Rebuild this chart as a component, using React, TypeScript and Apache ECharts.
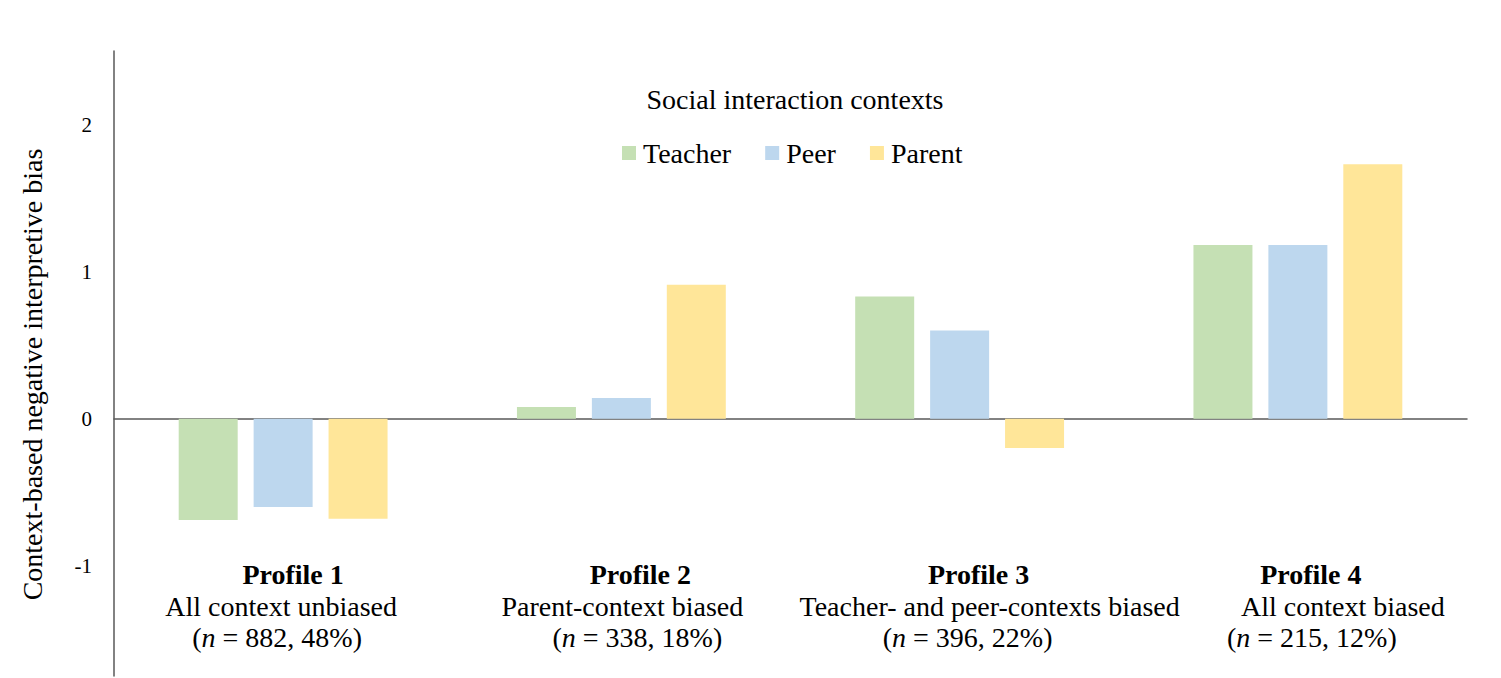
import React, { useEffect, useRef } from "react";
import * as echarts from "echarts";

const categories = ["Profile 1", "Profile 2", "Profile 3", "Profile 4"];
const descriptions = [
  "All context unbiased",
  "Parent-context biased",
  "Teacher- and peer-contexts biased",
  "All context biased",
];
const sampleN = ["882", "338", "396", "215"];
const samplePct = ["48%", "18%", "22%", "12%"];
const seriesNames = ["Teacher", "Peer", "Parent"];
const teacher = [-0.69, 0.08, 0.83, 1.18];
const peer = [-0.6, 0.14, 0.6, 1.18];
const parent = [-0.68, 0.91, -0.2, 1.73];
const yTicks = [-1, 0, 1, 2];

// per-line horizontal shift (layout only), in px
const lineShift = [
  [10, -2, -6],
  [19, 1, 16],
  [19, 30, 8],
  [13, 45, 14],
];

const FONT = "Liberation Serif";
const colors = ["#C5E0B4", "#BDD7EE", "#FFE699"];
const LH = 31.5;
const FS = 28;

function leftPad(d: number) {
  return [0, 0, 0, d > 0 ? 2 * d : 0];
}
function rightPad(d: number) {
  return [0, d < 0 ? -2 * d : 0, 0, 0];
}

export default function App() {
  const ref = useRef<HTMLDivElement>(null);
  useEffect(() => {
    if (!ref.current) return;
    const chart = echarts.init(ref.current, undefined, { renderer: "svg" });
    const base = { fontFamily: FONT, fontSize: FS, color: "#000", lineHeight: LH };
    const rich: Record<string, any> = {
      i: { ...base, fontStyle: "italic" },
    };
    lineShift.forEach((ls, ci) => {
      rich["b" + ci] = { ...base, fontWeight: "bold", padding: [0, rightPad(ls[0])[1], 0, leftPad(ls[0])[3]] };
      rich["d" + ci] = { ...base, padding: [0, rightPad(ls[1])[1], 0, leftPad(ls[1])[3]] };
      rich["pa" + ci] = { ...base, padding: leftPad(ls[2]) };
      rich["pz" + ci] = { ...base, padding: rightPad(ls[2]) };
    });
    const series = [teacher, peer, parent].map((data, k) => ({
      name: seriesNames[k],
      type: "bar",
      data,
      barWidth: 59,
      barGap: "27%",
      itemStyle: { color: colors[k] },
    }));
    chart.setOption({
      animation: false,
      title: {
        text: "Social interaction contexts",
        left: 790,
        top: 80,
        textAlign: "center",
        textStyle: { fontFamily: FONT, fontSize: FS, fontWeight: "normal", color: "#000" },
      },
      legend: {
        data: seriesNames,
        left: 617,
        top: 134,
        icon: "rect",
        itemWidth: 14,
        itemHeight: 14,
        itemGap: 34,
        textStyle: { fontFamily: FONT, fontSize: FS, color: "#000", padding: [0, 0, 0, 2] },
      },
      grid: { left: 114, right: 34, top: 51, bottom: 2, containLabel: false, outerBoundsMode: "none" },
      xAxis: {
        type: "category",
        data: categories,
        axisLine: { onZero: true, lineStyle: { color: "#595959", width: 1.5 } },
        axisTick: { show: false },
        axisLabel: {
          margin: -117,
          interval: 0,
          hideOverlap: false,
          formatter: (value: string, idx: number) =>
            `{b${idx}|${value}}\n{d${idx}|${descriptions[idx]}}\n{pa${idx}|(}{i|n}{pz${idx}| = ${sampleN[idx]}, ${samplePct[idx]})}`,
          rich,
        },
      },
      yAxis: {
        type: "value",
        min: -1.75,
        max: 2.5,
        interval: 0.25,
        splitLine: { show: false },
        axisTick: { show: false },
        axisLine: { show: true, lineStyle: { color: "#595959", width: 1.5 } },
        axisLabel: {
          margin: 22,
          fontFamily: FONT,
          fontSize: 21,
          color: "#000",
          formatter: (v: number) => (yTicks.includes(Math.round(v * 1000) / 1000) ? String(v) : ""),
        },
        name: "Context-based negative interpretive bias",
        nameLocation: "middle",
        nameGap: 68,
        nameTextStyle: { fontFamily: FONT, fontSize: FS, color: "#000", padding: [0, 22, 0, 0] },
      },
      series,
    });
    return () => chart.dispose();
  }, []);
  return (
    <div
      ref={ref}
      style={{ position: "absolute", left: 0, top: 0, width: 1501, height: 678, background: "#fff" }}
    />
  );
}
